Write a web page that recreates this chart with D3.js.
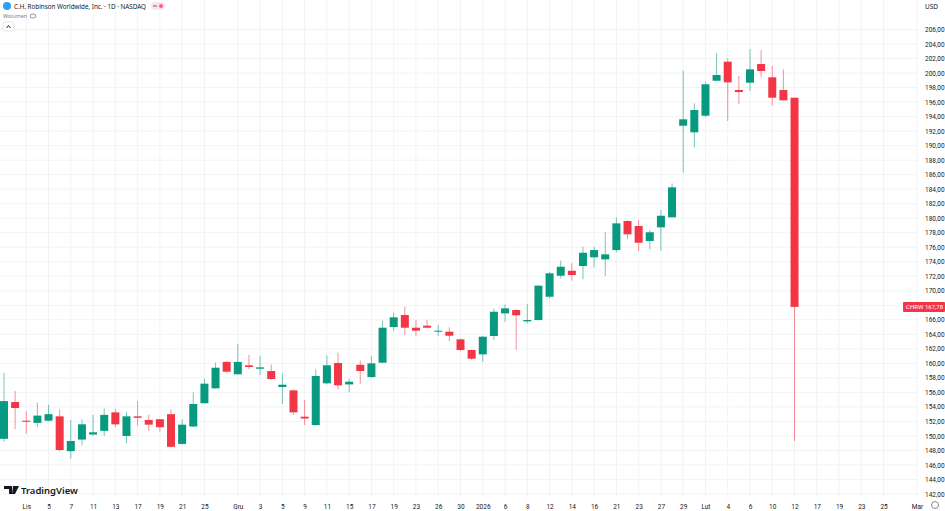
<!DOCTYPE html>
<html><head><meta charset="utf-8">
<script src="https://cdn.jsdelivr.net/npm/d3@7"></script>
<style>body{margin:0;background:#fff;font-family:"Noto Sans",Roboto,sans-serif}</style>
</head><body><svg id="c" width="945" height="511"></svg>
<script>
const dates = ["2025-10-30","2025-10-31","2025-11-03","2025-11-04","2025-11-05","2025-11-06","2025-11-07","2025-11-10","2025-11-11","2025-11-12","2025-11-13","2025-11-14","2025-11-17","2025-11-18","2025-11-19","2025-11-20","2025-11-21","2025-11-24","2025-11-25","2025-11-26","2025-11-28","2025-12-01","2025-12-02","2025-12-03","2025-12-04","2025-12-05","2025-12-08","2025-12-09","2025-12-10","2025-12-11","2025-12-12","2025-12-15","2025-12-16","2025-12-17","2025-12-18","2025-12-19","2025-12-22","2025-12-23","2025-12-24","2025-12-26","2025-12-29","2025-12-30","2025-12-31","2026-01-02","2026-01-05","2026-01-06","2026-01-07","2026-01-08","2026-01-09","2026-01-12","2026-01-13","2026-01-14","2026-01-15","2026-01-16","2026-01-20","2026-01-21","2026-01-22","2026-01-23","2026-01-26","2026-01-27","2026-01-28","2026-01-29","2026-01-30","2026-02-02","2026-02-03","2026-02-04","2026-02-05","2026-02-06","2026-02-09","2026-02-10","2026-02-11","2026-02-12"];
const open  = [149.6,154.67,152.1,151.8,152.1,152.7,147.9,149.5,150.2,150.7,153.25,150.0,152.7,152.2,152.3,153.0,148.9,151.3,154.5,156.56,160.2,158.5,159.73,159.26,158.94,156.74,156.28,152.65,151.5,157.25,160.05,157.1,159.8,158.12,160.09,165.0,166.66,164.91,165.19,164.36,164.36,163.31,161.84,161.24,163.77,166.89,167.35,165.79,165.97,169.18,172.07,172.76,173.41,174.61,174.33,175.61,179.61,178.92,176.86,178.74,180.12,192.74,191.83,194.12,198.94,201.56,197.66,198.67,201.24,199.41,197.66,196.6];
const high  = [158.7,156.19,153.4,154.6,154.3,153.67,152.2,152.3,152.9,153.8,153.7,153.3,154.8,152.9,152.3,153.7,152.3,156.0,157.9,160.1,160.3,162.7,161.15,161.05,159.85,158.57,156.4,154.95,159.2,161.1,161.47,157.9,160.4,161.0,165.87,166.98,167.8,165.97,166.0,165.28,164.97,163.4,161.9,163.8,167.49,168.13,167.5,168.2,170.8,172.6,174.14,173.82,176.07,176.07,178.05,180.12,179.75,179.75,178.37,181.13,184.8,200.32,195.83,198.8,202.72,202.03,199.59,203.31,203.17,200.97,200.51,196.6];
const low   = [149.2,150.95,150.3,151.2,152.0,147.9,146.86,148.7,150.0,150.0,151.2,149.0,151.4,150.7,150.6,148.4,148.75,151.2,154.5,156.5,158.7,158.4,159.2,158.4,157.7,154.4,152.9,151.5,151.4,157.1,156.37,156.0,157.15,157.98,160.05,164.45,163.9,163.8,164.8,163.8,163.08,161.7,160.5,160.2,163.2,165.74,161.88,165.5,165.9,168.96,171.72,171.39,171.58,173.23,172.07,175.3,177.13,175.48,175.71,175.48,180.1,186.27,189.77,193.9,198.9,193.39,195.73,197.52,199.41,195.5,196.2,149.3];
const close = [154.8,153.85,151.95,152.8,153.0,148.06,149.3,151.6,150.5,152.9,151.6,152.7,152.5,151.55,151.2,148.5,151.55,154.4,157.2,159.4,158.85,160.2,159.5,159.45,157.84,157.06,153.25,152.4,158.26,159.73,156.97,157.47,158.94,160.0,164.91,166.34,164.91,164.5,164.91,164.5,163.81,161.84,160.64,163.67,167.11,167.58,166.62,165.97,170.7,172.4,173.31,172.17,175.24,175.61,175.02,179.29,177.78,176.62,178.06,180.34,184.25,193.62,194.9,198.45,199.73,198.72,197.38,200.51,200.28,196.6,196.24,167.78];
const xTickIdx = [2,4,6,8,10,12,14,16,18,21,23,25,27,29,31,33,35,37,39,41,43,45,47,49,51,53,55,57,59,61,63,65,67,69,71,73,75,77,79,82];
const xTickLabels = ["Lis","5","7","11","13","17","19","21","25","Gru","3","5","9","11","15","17","19","23","26","30","2026","6","8","12","14","16","21","23","27","29","Lut","4","6","10","12","17","19","23","25","Mar"];
const yTicks = d3.range(142, 207, 2);

const svg = d3.select("#c");
const G="#089981", R="#F23645";
const x = d3.scaleLinear().domain([0,82]).range([4,917]);
const y = d3.scaleLinear().domain([142,204]).range([494,44]);
const plotR = 918;
svg.append("g").selectAll("line").data(yTicks).join("line")
 .attr("x1",0).attr("x2",plotR).attr("y1",d=>y(d)).attr("y2",d=>y(d)).attr("stroke","#f2f3f5");
svg.append("g").selectAll("line").data(xTickIdx).join("line")
 .attr("x1",d=>x(d)).attr("x2",d=>x(d)).attr("y1",0).attr("y2",497).attr("stroke","#f2f3f5");
const ya = svg.append("g").attr("transform",`translate(${plotR+4},0)`)
 .call(d3.axisRight(y).tickValues(yTicks).tickSize(0).tickFormat(d=>d3.format(".2f")(d).replace(".",",")));
ya.select(".domain").remove();
ya.selectAll("text").attr("font-size",6.5).attr("fill","#131722").attr("font-family","Roboto,sans-serif");
const xa = svg.append("g").attr("transform","translate(0,501)")
 .call(d3.axisBottom(x).tickValues(xTickIdx).tickSize(0).tickFormat((d,i)=>xTickLabels[i]));
xa.select(".domain").remove();
xa.selectAll("text").attr("font-size",6.5).attr("fill","#131722").attr("font-family","Roboto,sans-serif");
const data = dates.map((d,i)=>({i,o:open[i],h:high[i],l:low[i],c:close[i]}));
const cg = svg.append("g");
cg.selectAll("line").data(data).join("line")
 .attr("x1",d=>x(d.i)).attr("x2",d=>x(d.i)).attr("y1",d=>y(d.h)).attr("y2",d=>y(d.l))
 .attr("stroke",d=>d.c>=d.o?G:R).attr("stroke-opacity",0.55).attr("stroke-width",1);
cg.selectAll("rect").data(data).join("rect")
 .attr("x",d=>x(d.i)-4).attr("width",8)
 .attr("y",d=>y(Math.max(d.o,d.c))).attr("height",d=>Math.max(1,Math.abs(y(d.o)-y(d.c))))
 .attr("fill",d=>d.c>=d.o?G:R);
const last = close[close.length-1];
const lg = svg.append("g").attr("transform",`translate(903,${y(last)-5})`);
lg.append("rect").attr("width",42).attr("height",10).attr("rx",1).attr("fill",R);
lg.append("text").attr("x",3).attr("y",7.5).attr("font-size",6).attr("fill","#fff").attr("font-family","Roboto,sans-serif").text("CHRW");
lg.append("text").attr("x",22).attr("y",7.5).attr("font-size",6).attr("fill","#fff").attr("font-family","Roboto,sans-serif").text(d3.format(".2f")(last).replace(".",","));
svg.append("circle").attr("cx",7).attr("cy",6).attr("r",4).attr("fill","#2f9ff0");
svg.append("text").attr("x",14).attr("y",9).attr("font-size",7.5).attr("fill","#131722")
 .attr("textLength",132).attr("lengthAdjust","spacingAndGlyphs").text("C.H. Robinson Worldwide, Inc. · 1D · NASDAQ");
svg.append("rect").attr("x",151).attr("y",2).attr("width",14).attr("height",8).attr("rx",4).attr("fill","#fde4ea");
svg.append("rect").attr("x",153).attr("y",5.5).attr("width",4).attr("height",1).attr("fill","#666");
svg.append("circle").attr("cx",161).attr("cy",6).attr("r",2).attr("fill","#f06292");
svg.append("text").attr("x",3).attr("y",18).attr("font-size",6).attr("fill","#787b86")
 .attr("textLength",24).attr("lengthAdjust","spacingAndGlyphs").text("Wolumen");
svg.append("ellipse").attr("cx",33).attr("cy",16).attr("rx",3).attr("ry",2).attr("fill","none").attr("stroke","#787b86").attr("stroke-width",0.8);
svg.append("rect").attr("x",3).attr("y",22).attr("width",11).attr("height",9).attr("rx",2).attr("fill","#fff").attr("stroke","#e0e3eb");
svg.append("path").attr("d","M6.5 28 L8.5 25.5 L10.5 28").attr("fill","none").attr("stroke","#131722").attr("stroke-width",0.9);
svg.append("text").attr("x",925).attr("y",9).attr("font-size",6.5).attr("fill","#131722").text("USD");
svg.append("path").attr("d","M4 486 H12 V494 H9 V489 H4 Z M13 486 H19 L15 494 H12 Z").attr("fill","#131722");
svg.append("text").attr("x",21).attr("y",494).attr("font-size",9.5).attr("font-weight","600").attr("fill","#131722").text("TradingView");
svg.append("circle").attr("cx",935).attr("cy",505).attr("r",3.5).attr("fill","none").attr("stroke","#787b86").attr("stroke-width",0.9);
</script></body></html>
